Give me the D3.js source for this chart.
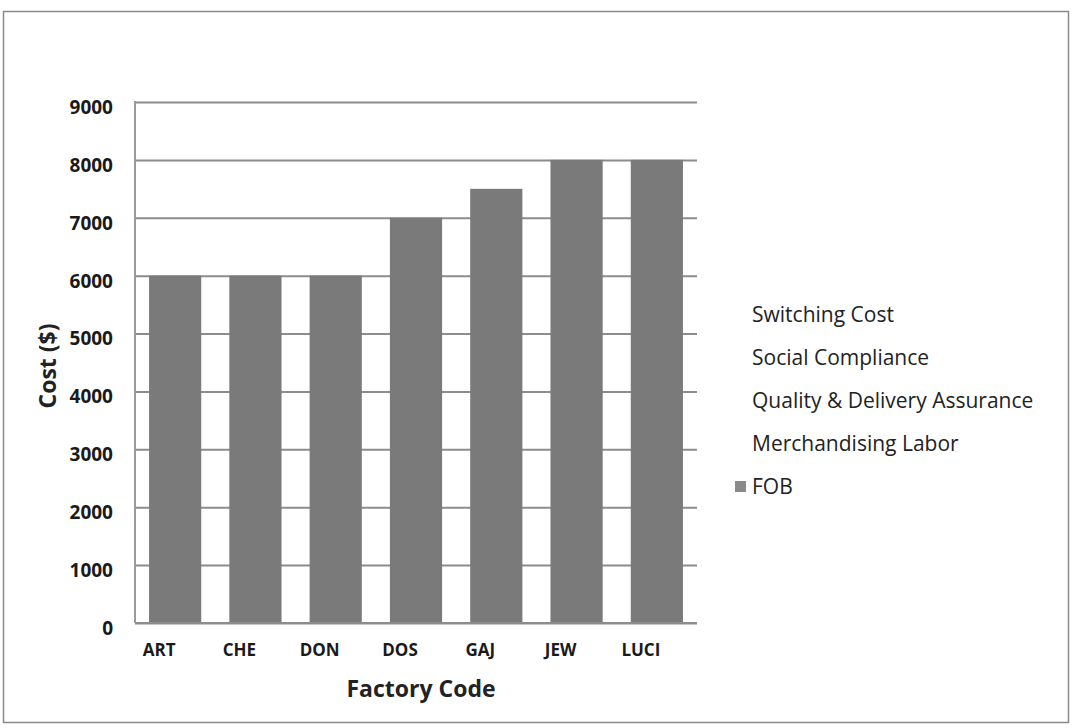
<!DOCTYPE html>
<html>
<head>
<meta charset="utf-8">
<script src="https://cdn.jsdelivr.net/npm/d3@7"></script>
<style>
  html, body { margin: 0; padding: 0; background: #fff; }
  svg { display: block; }
</style>
</head>
<body>
<svg id="chart" width="1072" height="728"></svg>
<script>
const categories = ["ART", "CHE", "DON", "DOS", "GAJ", "JEW", "LUCI"];
const fobValues = [6000, 6000, 6000, 7000, 7500, 8000, 8000];
const yTicks = [0, 1000, 2000, 3000, 4000, 5000, 6000, 7000, 8000, 9000];
const legendItems = ["Switching Cost", "Social Compliance", "Quality & Delivery Assurance", "Merchandising Labor", "FOB"];

const svg = d3.select("#chart");
const font = "'Open Sans', 'DejaVu Sans', sans-serif";

// outer frame
svg.append("rect")
  .attr("x", 3.5).attr("y", 11.5).attr("width", 1065).attr("height", 711)
  .attr("fill", "none").attr("stroke", "#8a8a8a").attr("stroke-width", 1.5);

const plot = { left: 135, right: 697, top: 102, bottom: 623 };

const x = d3.scaleBand().domain(categories)
  .range([plot.left, plot.right]).paddingInner(0.35).paddingOuter(0.175);
const y = d3.scaleLinear().domain([0, 9000]).range([plot.bottom, plot.top]);

// gridlines
const yAxis = d3.axisLeft(y).tickValues(yTicks).tickSize(-(plot.right - plot.left)).tickFormat("");
const gGrid = svg.append("g").attr("transform", `translate(${plot.left},0)`).call(yAxis);
gGrid.select(".domain").remove();
gGrid.selectAll(".tick line").attr("stroke", "#8c8c8c").attr("stroke-width", 2);

// left axis line
svg.append("line")
  .attr("x1", plot.left).attr("x2", plot.left)
  .attr("y1", plot.top - 1).attr("y2", plot.bottom)
  .attr("stroke", "#9a9a9a").attr("stroke-width", 2);

// tick labels
const gLab = svg.append("g").attr("transform", `translate(${plot.left},0)`)
  .call(d3.axisLeft(y).tickValues(yTicks).tickSize(0).tickPadding(22).tickFormat(d3.format("d")));
gLab.select(".domain").remove();
gLab.selectAll("text")
  .attr("dy", "0.6em")
  .style("font-family", font).style("font-weight", "700").style("font-size", "19px").attr("fill", "#1a1a1a");

// bars
svg.append("g").selectAll("rect").data(categories).join("rect")
  .attr("x", d => x(d))
  .attr("width", x.bandwidth())
  .attr("y", (d, i) => y(fobValues[i]))
  .attr("height", (d, i) => y(0) - y(fobValues[i]))
  .attr("fill", "#7a7a7a");

// bottom axis line
svg.append("line")
  .attr("x1", plot.left).attr("x2", plot.right)
  .attr("y1", plot.bottom).attr("y2", plot.bottom)
  .attr("stroke", "#8c8c8c").attr("stroke-width", 2);

// x labels
const gX = svg.append("g").attr("transform", `translate(-16,${plot.bottom})`)
  .call(d3.axisBottom(x).tickSize(0).tickPadding(21));
gX.select(".domain").remove();
gX.selectAll("text")
  .style("font-family", font).style("font-weight", "700").style("font-size", "17px").attr("fill", "#1a1a1a");

// axis titles
svg.append("text")
  .attr("x", 421).attr("y", 697)
  .attr("text-anchor", "middle")
  .style("font-family", font).style("font-weight", "700").style("font-size", "23px").attr("fill", "#222")
  .text("Factory Code");

svg.append("text")
  .attr("transform", "translate(56,366) rotate(-90)")
  .attr("text-anchor", "middle")
  .style("font-family", font).style("font-weight", "700").style("font-size", "23px").attr("fill", "#222")
  .text("Cost ($)");

// legend
const lg = svg.append("g");
const ly = d3.scalePoint().domain(legendItems).range([315, 487]);
lg.selectAll("text").data(legendItems).join("text")
  .attr("x", 752).attr("y", d => ly(d)).attr("dy", "0.35em")
  .style("font-family", font).style("font-size", "21px").attr("fill", "#222")
  .text(d => d);
lg.append("rect")
  .attr("x", 735).attr("y", ly("FOB") - 6).attr("width", 11).attr("height", 11)
  .attr("fill", "#8a8a8a");
</script>
</body>
</html>
